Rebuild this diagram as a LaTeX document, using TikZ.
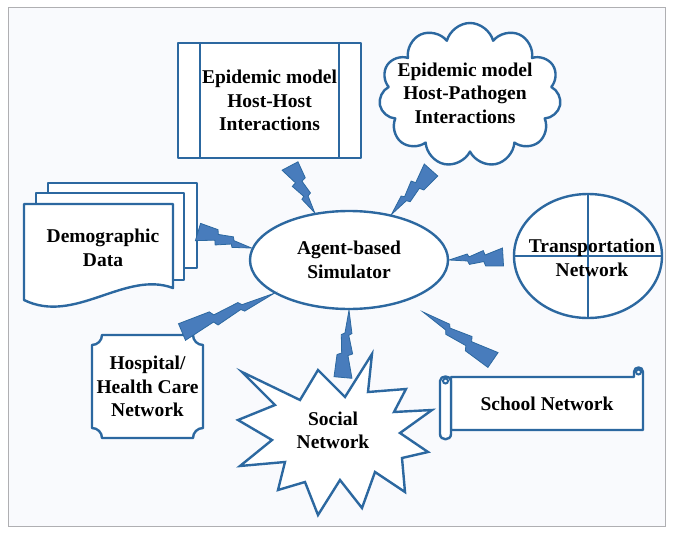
\documentclass[tikz,border=0pt]{standalone}
\usepackage{fontspec}
\setmainfont{Liberation Serif}
\usetikzlibrary{shapes.geometric,shapes.symbols,calc}

\definecolor{lineblue}{RGB}{44,104,160}
\definecolor{boltblue}{RGB}{72,124,188}
\definecolor{paper}{RGB}{249,250,253}
\definecolor{framegray}{RGB}{175,175,178}

% zigzag bolt, wide end at #1, point at #2
\newcommand{\bolt}[2]{%
  \filldraw[bolt] ($(#1)!0!(#2)!9pt!270:(#2)$)
    -- ($(#1)!0.33!(#2)!3pt!270:(#2)$)
    -- ($(#1)!0.36!(#2)!7.5pt!270:(#2)$)
    -- ($(#1)!0.63!(#2)!2pt!270:(#2)$)
    -- ($(#1)!0.66!(#2)!5pt!270:(#2)$)
    -- (#2)
    -- ($(#1)!0.66!(#2)!-2pt!270:(#2)$)
    -- ($(#1)!0.63!(#2)!-5.5pt!270:(#2)$)
    -- ($(#1)!0.36!(#2)!-3.5pt!270:(#2)$)
    -- ($(#1)!0.33!(#2)!-8pt!270:(#2)$)
    -- ($(#1)!0!(#2)!-9pt!270:(#2)$) -- cycle;}

\begin{document}
\begin{tikzpicture}[x=1pt,y=-1pt]
\tikzstyle{every node}=[font=\bfseries\fontsize{19.5}{23.5}\selectfont, align=center, inner sep=0pt]
\tikzstyle{outline}=[draw=lineblue, line width=2.4pt, fill=white, line join=round]
\tikzstyle{thin}=[draw=lineblue, line width=2pt]
\tikzstyle{bolt}=[fill=boltblue, draw=lineblue, line width=0.8pt]

\useasboundingbox (0,0) rectangle (673,533);
\fill[white] (0,0) rectangle (673,533);
\filldraw[fill=paper, draw=framegray, line width=1pt] (8,7) rectangle (665,526);

% demographic pages
\filldraw[outline] (48,183) rectangle (197,268);
\filldraw[outline] (36,193) rectangle (184,280);
\filldraw[outline] (24,204) -- (173,204) -- (173,288) .. controls (125,270) and (75,325) .. (24,300) -- cycle;

% hospital plaque
\filldraw[outline] (102,335) -- (193,335) .. controls (193,340.5) and (197.5,345) .. (203,345)
  -- (203,428) .. controls (197.5,428) and (193,432.5) .. (193,438)
  -- (102,438) .. controls (102,432.5) and (97.5,428) .. (92,428)
  -- (92,345) .. controls (97.5,345) and (102,340.5) .. (102,335) -- cycle;

% social burst
\filldraw[outline, line join=miter] (242,372) -- (300,400) -- (318,370) -- (345,397) -- (372,354)
  -- (368,392) -- (406,389) -- (394,412) -- (432,410) -- (400,433) -- (428,452)
  -- (402,458) -- (405,492) -- (375,472) -- (362,508) -- (340,480) -- (318,515)
  -- (305,482) -- (278,490) -- (285,462) -- (240,466) -- (272,440) -- (238,420)
  -- (275,405) -- cycle;

% school scroll
\filldraw[outline] (451,377) -- (634,377) -- (634,372) .. controls (634,366) and (643,366) .. (643,372)
  -- (643,430) -- (451,430) -- cycle;
\draw[thin] (638.5,372) circle (2.5);
\filldraw[outline] (440,381) .. controls (440,375) and (451,375) .. (451,381) -- (451,434)
  .. controls (451,441) and (440,441) .. (440,434) -- cycle;
\draw[thin] (445.5,381) circle (2.5);

\node (demo) at (103,248) {Demographic\\Data};
\node (hosp) at (147.5,386.5) {Hospital/\\Health Care\\Network};
\node (soc) at (333,430.5) {Social\\Network};
\node (school) at (547,403.5) {School Network};

\node[outline, rectangle, minimum width=183pt, minimum height=115pt] (hh) at (269.5,100.5) {Epidemic model\\Host-Host\\Interactions};
\draw[thin] ($(hh.north west)+(23,0)$) -- ($(hh.south west)+(23,0)$);
\draw[thin] ($(hh.north east)+(-23,0)$) -- ($(hh.south east)+(-23,0)$);

\node[outline, cloud, cloud puffs=11, cloud ignores aspect, minimum width=182pt, minimum height=144pt] (cld) at (470,95) {};
\node (cldtext) at (465,93) {Epidemic model\\Host-Pathogen\\Interactions};

\node[outline, ellipse, minimum width=198pt, minimum height=98pt] (sim) at (349,260) {Agent-based\\Simulator};

\node[outline, ellipse, minimum width=148pt, minimum height=124pt] (trans) at (588,256) {};
\draw[thin] (trans.north) -- (trans.south);
\draw[thin] (trans.west) -- (trans.east);
\node (transtext) at (592,258) {Transportation\\Network};

\coordinate (hhb) at ($(hh)+(20.5,65.5)$);
\coordinate (cldb) at ($(cld)+(-39,75)$);
\coordinate (demob) at ($(demo)+(95,-16)$);
\coordinate (transb) at ($(trans)+(-85,1)$);
\coordinate (hospb) at ($(hosp)+(34.5,-54.5)$);
\coordinate (socb) at ($(soc)+(10,-53)$);
\coordinate (schoolb) at ($(school)+(-54,-43.5)$);
\coordinate (schoolt) at ($(sim)+(74,52)$);

\bolt{hhb}{sim.126}
\bolt{cldb}{sim.47}
\bolt{demob}{sim.173}
\bolt{transb}{sim.0}
\bolt{hospb}{sim.204}
\bolt{socb}{sim.270}
\bolt{schoolb}{schoolt}
\end{tikzpicture}
\end{document}
